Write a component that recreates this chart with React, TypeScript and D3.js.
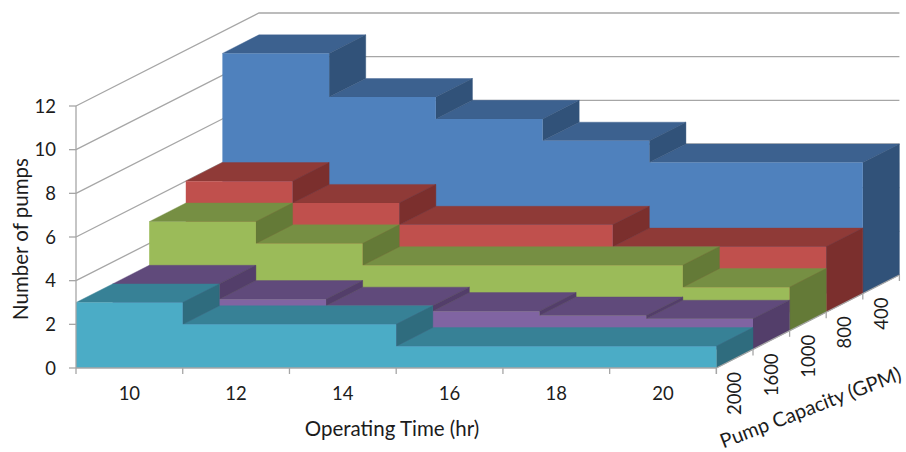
import * as d3 from "d3";

const hours = ["10", "12", "14", "16", "18", "20"];
const capacities = ["2000", "1600", "1000", "800", "400"];
const yTicks = [0, 2, 4, 6, 8, 10, 12];

// one list of pump counts per capacity, front to back
const pumps2000 = [3, 2, 2, 1, 1, 1];
const pumps1600 = [3, 2.3, 2, 1.75, 1.55, 1.4];
const pumps1000 = [5, 4, 3, 3, 3, 2];
const pumps800 = [6, 5, 4, 4, 3, 3];
const pumps400 = [11, 9, 8, 7, 6, 6];
const seriesValues = [pumps2000, pumps1600, pumps1000, pumps800, pumps400];

const frontColors = ["#4bacc6", "#8064a2", "#9bbb59", "#c0504d", "#4f81bd"];
const topColors = ["#378196", "#604a7b", "#768f43", "#8f3a37", "#3c618f"];
const sideColors = ["#2f6c7e", "#533e6a", "#647a37", "#7b2f2d", "#315279"];

const width = 906;
const height = 452;
const gridColor = "#a6a6a6";
const textColor = "#1c1c1c";
const font = "Lato, 'Open Sans', sans-serif";

const x = d3.scaleLinear().domain([0, hours.length]).range([76, 716.4]);
const y = d3.scaleLinear().domain([0, 12]).range([368, 106]);
// depth moves everything right and up
const depthX = d3.scaleLinear().domain([0, capacities.length]).range([0, 183]);
const depthY = d3.scaleLinear().domain([0, capacities.length]).range([0, -93]);

const quad = d3.line<[number, number]>().curve(d3.curveLinearClosed);

function project(i: number, v: number, d: number): [number, number] {
  return [x(i) + depthX(d), y(v) + depthY(d)];
}

function Series({ values, d }: { values: number[]; d: number }) {
  // repeat last value so the step reaches the right hand edge
  const stepped = [...values, values[values.length - 1]];
  const front = d3
    .area<number>()
    .curve(d3.curveStepAfter)
    .x((_, i) => x(i) + depthX(d))
    .y0(y(0) + depthY(d))
    .y1(v => y(v) + depthY(d));

  // neighbours with the same value share one top face, so no seam shows
  const tops: [number, number][][] = [];
  let start = 0;
  values.forEach((v, i) => {
    if (i === values.length - 1 || values[i + 1] !== v) {
      tops.push([
        project(start, v, d),
        project(i + 1, v, d),
        project(i + 1, v, d + 1),
        project(start, v, d + 1)
      ]);
      start = i + 1;
    }
  });

  const sides: [number, number][][] = [];
  values.forEach((v, i) => {
    const next = i < values.length - 1 ? values[i + 1] : 0;
    if (v > next) {
      sides.push([
        project(i + 1, v, d),
        project(i + 1, v, d + 1),
        project(i + 1, next, d + 1),
        project(i + 1, next, d)
      ]);
    }
  });

  return (
    <g>
      {tops.map((t, i) => (
        <path key={i} d={quad(t) || undefined} fill={topColors[d]} stroke={topColors[d]} strokeWidth={0.4} />
      ))}
      {sides.map((s, i) => (
        <path key={i} d={quad(s) || undefined} fill={sideColors[d]} stroke={sideColors[d]} strokeWidth={0.4} />
      ))}
      <path d={front(stepped) || undefined} fill={frontColors[d]} />
    </g>
  );
}

export default function App() {
  const depth = capacities.length;
  const xEdges = d3.range(hours.length + 1);

  return (
    <svg
      width={width}
      height={height}
      style={{ position: "absolute", left: 0, top: 0, background: "#fff" }}
      fontFamily={font}
      fill={textColor}
    >
      {/* walls */}
      <g stroke={gridColor} strokeWidth={1.3} fill="none">
        {yTicks.map(t => (
          <path
            key={t}
            d={d3.line()([project(0, t, 0), project(0, t, depth), project(hours.length, t, depth)]) || undefined}
          />
        ))}
      </g>

      {/* back to front so nearer capacities cover the others */}
      {d3.range(depth - 1, -1, -1).map(d => (
        <Series key={d} values={seriesValues[d]} d={d} />
      ))}

      {/* value axis */}
      <g stroke={gridColor} strokeWidth={1.3}>
        <line x1={x(0)} x2={x(0)} y1={y(0)} y2={y(12)} />
        {yTicks.map(t => (
          <line key={t} x1={x(0) - 7} x2={x(0)} y1={y(t)} y2={y(t)} />
        ))}
        {/* time axis */}
        <line x1={x(0)} x2={x(hours.length)} y1={y(0)} y2={y(0)} />
        {xEdges.map(i => (
          <line key={i} x1={x(i)} x2={x(i)} y1={y(0)} y2={y(0) + 6} />
        ))}
        {/* depth axis */}
        <line
          x1={x(hours.length)}
          y1={y(0)}
          x2={x(hours.length) + depthX(depth)}
          y2={y(0) + depthY(depth)}
        />
        {d3.range(depth + 1).map(d => (
          <line
            key={d}
            x1={x(hours.length) + depthX(d)}
            x2={x(hours.length) + depthX(d)}
            y1={y(0) + depthY(d)}
            y2={y(0) + depthY(d) + 6}
          />
        ))}
      </g>

      <g fontSize={18.5}>
        {yTicks.map(t => (
          <text key={t} x={56} y={y(t)} dy="0.36em" textAnchor="end">
            {t}
          </text>
        ))}
        {hours.map((h, i) => (
          <text key={h} x={x(i + 0.5)} y={400} textAnchor="middle">
            {h}
          </text>
        ))}
        {capacities.map((c, d) => (
          <text
            key={c}
            textAnchor="end"
            dy="0.36em"
            transform={`translate(${x(hours.length) + depthX(d + 0.5)},${y(0) + depthY(d) + 4}) rotate(-90)`}
          >
            {c}
          </text>
        ))}
      </g>

      <g fontSize={20.5}>
        <text x={392} y={436} textAnchor="middle">
          Operating Time (hr)
        </text>
        <text transform="translate(28,239) rotate(-90)" textAnchor="middle">
          Number of pumps
        </text>
        <text fontSize={20} transform="translate(813,414) rotate(-21)" textAnchor="middle">
          Pump Capacity (GPM)
        </text>
      </g>
    </svg>
  );
}
